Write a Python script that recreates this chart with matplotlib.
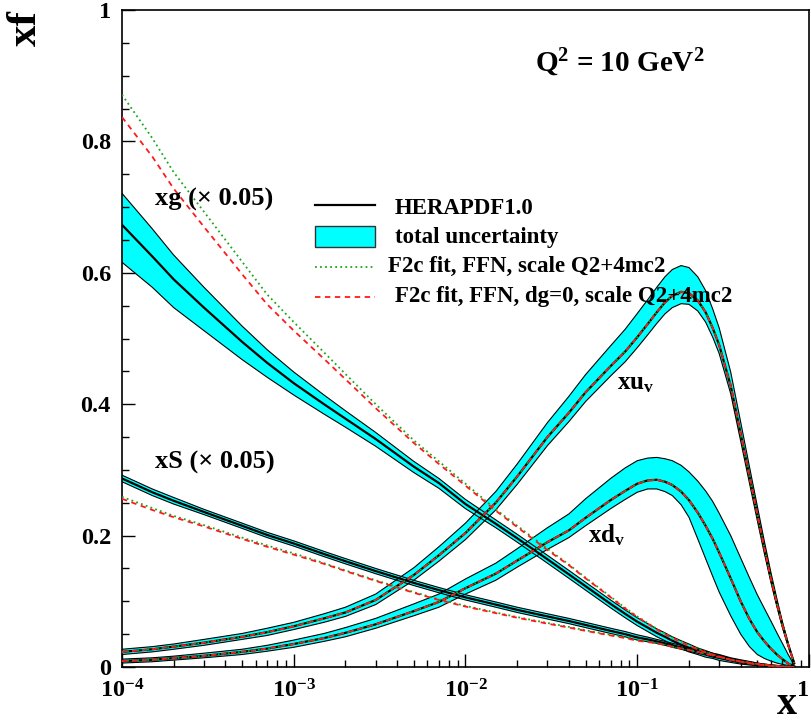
import numpy as np
import matplotlib
matplotlib.use("Agg")
import matplotlib.pyplot as plt
from matplotlib.lines import Line2D
from matplotlib.patches import Rectangle
from matplotlib.ticker import (FixedLocator, FixedFormatter, LogLocator,
                               MultipleLocator, NullFormatter)

plt.rcParams["font.family"] = ["Liberation Serif", "DejaVu Serif"]
plt.rcParams["font.weight"] = "bold"
plt.rcParams["mathtext.fontset"] = "custom"
plt.rcParams["mathtext.rm"] = "Liberation Serif:bold"
plt.rcParams["mathtext.it"] = "Liberation Serif:bold"
plt.rcParams["mathtext.bf"] = "Liberation Serif:bold"
plt.rcParams["mathtext.default"] = "rm"

# ---------------- data: parton distributions at Q^2 = 10 GeV^2 ----------------
x_vals = [1e-4, 1.5e-4, 2e-4, 3e-4, 5e-4, 7e-4, 1e-3, 1.5e-3, 2e-3, 3e-3,
          5e-3, 7e-3, 1e-2, 1.5e-2, 2e-2, 3e-2, 4e-2, 5e-2, 7e-2, 0.085,
          0.1, 0.115, 0.13, 0.145, 0.16, 0.18, 0.2, 0.225, 0.25, 0.275,
          0.3, 0.35, 0.4, 0.45, 0.5, 0.55, 0.6, 0.65, 0.7, 0.76, 0.82]

# gluon (x 0.05)
xg = [0.673, 0.625, 0.590, 0.547, 0.495, 0.463, 0.432, 0.400, 0.378, 0.347,
      0.305, 0.280, 0.248, 0.218, 0.196, 0.164, 0.141, 0.123, 0.096, 0.081,
      0.069, 0.060, 0.052, 0.046, 0.040, 0.034, 0.029, 0.024, 0.020, 0.017,
      0.014, 0.010, 0.007, 0.005, 0.0035, 0.0025, 0.0015, 0.001, 0.0006, 0.0002, 0.0]
xg_hi = [0.721, 0.667, 0.627, 0.578, 0.519, 0.483, 0.449, 0.414, 0.390, 0.357,
         0.313, 0.287, 0.255, 0.224, 0.202, 0.170, 0.147, 0.129, 0.102, 0.087,
         0.075, 0.066, 0.058, 0.052, 0.046, 0.040, 0.035, 0.029, 0.025, 0.021,
         0.018, 0.013, 0.0095, 0.007, 0.005, 0.0037, 0.0025, 0.0017, 0.0011, 0.0004, 0.0]
xg_lo = [0.616, 0.578, 0.547, 0.512, 0.468, 0.441, 0.414, 0.385, 0.365, 0.336,
         0.296, 0.272, 0.241, 0.212, 0.190, 0.158, 0.135, 0.117, 0.090, 0.075,
         0.063, 0.054, 0.046, 0.040, 0.034, 0.028, 0.023, 0.019, 0.015, 0.013,
         0.010, 0.007, 0.0045, 0.003, 0.002, 0.0013, 0.0005, 0.0003, 0.0001, 0.0, 0.0]
xg_ffn = [0.871, 0.805, 0.753, 0.693, 0.617, 0.567, 0.525, 0.479, 0.446, 0.400,
          0.345, 0.313, 0.279, 0.240, 0.215, 0.180, 0.156, 0.136, 0.107, 0.090,
          0.077, 0.067, 0.058, 0.051, 0.045, 0.039, 0.033, 0.028, 0.023, 0.019,
          0.016, 0.011, 0.008, 0.0055, 0.004, 0.0027, 0.0017, 0.001, 0.0006, 0.0002, 0.0]
xg_ffn_dg0 = [0.837, 0.777, 0.728, 0.670, 0.598, 0.552, 0.512, 0.469, 0.438, 0.394,
              0.341, 0.309, 0.276, 0.238, 0.213, 0.178, 0.155, 0.135, 0.106, 0.089,
              0.076, 0.066, 0.057, 0.050, 0.044, 0.038, 0.032, 0.027, 0.022, 0.019,
              0.016, 0.011, 0.008, 0.0055, 0.004, 0.0027, 0.0017, 0.001, 0.0006, 0.0002, 0.0]

# sea (x 0.05)
xS = [0.287, 0.266, 0.253, 0.236, 0.215, 0.201, 0.188, 0.172, 0.161, 0.146,
      0.128, 0.117, 0.106, 0.095, 0.087, 0.077, 0.070, 0.064, 0.055, 0.050,
      0.045, 0.042, 0.039, 0.036, 0.033, 0.030, 0.027, 0.024, 0.021, 0.018,
      0.016, 0.012, 0.009, 0.007, 0.005, 0.0035, 0.0025, 0.0017, 0.001, 0.0004, 0.0]
xS_hi = [0.292, 0.271, 0.258, 0.240, 0.219, 0.205, 0.192, 0.176, 0.165, 0.150,
         0.132, 0.121, 0.110, 0.099, 0.091, 0.081, 0.074, 0.068, 0.059, 0.054,
         0.049, 0.0455, 0.042, 0.039, 0.036, 0.033, 0.030, 0.027, 0.024, 0.021,
         0.019, 0.014, 0.011, 0.0085, 0.006, 0.0045, 0.0032, 0.0022, 0.0014, 0.0006, 0.0]
xS_lo = [0.282, 0.261, 0.248, 0.232, 0.211, 0.197, 0.184, 0.168, 0.157, 0.142,
         0.124, 0.113, 0.102, 0.091, 0.083, 0.073, 0.066, 0.060, 0.051, 0.046,
         0.041, 0.0385, 0.036, 0.033, 0.030, 0.027, 0.024, 0.021, 0.018, 0.015,
         0.013, 0.010, 0.007, 0.0055, 0.004, 0.0027, 0.0018, 0.0012, 0.0006, 0.0002, 0.0]
xS_ffn = [0.259, 0.242, 0.230, 0.216, 0.197, 0.185, 0.173, 0.158, 0.147, 0.132,
          0.114, 0.103, 0.093, 0.083, 0.076, 0.067, 0.061, 0.056, 0.049, 0.045,
          0.041, 0.0385, 0.036, 0.0335, 0.031, 0.0285, 0.026, 0.023, 0.020, 0.0175,
          0.015, 0.011, 0.0085, 0.0065, 0.0047, 0.0033, 0.0023, 0.0016, 0.001, 0.0004, 0.0]
xS_ffn_dg0 = [0.256, 0.239, 0.228, 0.214, 0.195, 0.183, 0.171, 0.157, 0.146, 0.131,
              0.113, 0.102, 0.092, 0.082, 0.075, 0.066, 0.060, 0.055, 0.048, 0.044,
              0.040, 0.038, 0.036, 0.0335, 0.031, 0.0285, 0.026, 0.023, 0.020, 0.0175,
              0.015, 0.011, 0.0085, 0.0065, 0.0047, 0.0033, 0.0023, 0.0016, 0.001, 0.0004, 0.0]

# u valence
xuv = [0.023, 0.027, 0.031, 0.037, 0.046, 0.053, 0.062, 0.074, 0.083, 0.102,
       0.140, 0.170, 0.204, 0.250, 0.290, 0.350, 0.387, 0.418, 0.458, 0.480,
       0.502, 0.522, 0.540, 0.555, 0.565, 0.571, 0.569, 0.558, 0.540, 0.516,
       0.490, 0.428, 0.355, 0.290, 0.232, 0.180, 0.135, 0.097, 0.064, 0.032, 0.006]
xuv_hi = [0.027, 0.031, 0.035, 0.042, 0.051, 0.059, 0.068, 0.081, 0.091, 0.111,
          0.151, 0.183, 0.219, 0.267, 0.309, 0.372, 0.412, 0.445, 0.489, 0.514,
          0.538, 0.559, 0.578, 0.594, 0.605, 0.611, 0.608, 0.594, 0.573, 0.545,
          0.516, 0.449, 0.373, 0.305, 0.245, 0.191, 0.144, 0.104, 0.069, 0.035, 0.007]
xuv_lo = [0.019, 0.023, 0.027, 0.033, 0.042, 0.048, 0.057, 0.068, 0.077, 0.095,
          0.132, 0.161, 0.194, 0.239, 0.278, 0.337, 0.3735, 0.404, 0.443, 0.4645,
          0.486, 0.5055, 0.523, 0.5375, 0.547, 0.553, 0.552, 0.542, 0.525, 0.502,
          0.477, 0.416, 0.344, 0.280, 0.223, 0.1725, 0.129, 0.092, 0.060, 0.030, 0.005]

# d valence
xdv = [0.009, 0.011, 0.0135, 0.017, 0.023, 0.028, 0.035, 0.044, 0.052, 0.065,
       0.085, 0.099, 0.120, 0.142, 0.162, 0.190, 0.208, 0.227, 0.254, 0.268,
       0.279, 0.284, 0.285, 0.282, 0.277, 0.267, 0.254, 0.235, 0.215, 0.195,
       0.174, 0.135, 0.100, 0.073, 0.053, 0.039, 0.028, 0.019, 0.012, 0.005, 0.001]
xdv_hi = [0.012, 0.014, 0.0165, 0.021, 0.027, 0.033, 0.041, 0.051, 0.060, 0.074,
          0.096, 0.111, 0.134, 0.158, 0.180, 0.212, 0.233, 0.256, 0.287, 0.303,
          0.314, 0.318, 0.319, 0.317, 0.314, 0.307, 0.297, 0.283, 0.268, 0.252,
          0.234, 0.200, 0.166, 0.136, 0.110, 0.089, 0.070, 0.052, 0.036, 0.018, 0.003]
xdv_lo = [0.006, 0.008, 0.0105, 0.014, 0.019, 0.024, 0.030, 0.039, 0.046, 0.059,
          0.078, 0.091, 0.111, 0.132, 0.152, 0.179, 0.197, 0.215, 0.241, 0.255,
          0.266, 0.271, 0.271, 0.267, 0.261, 0.247, 0.228, 0.195, 0.165, 0.138,
          0.114, 0.078, 0.050, 0.031, 0.019, 0.013, 0.009, 0.006, 0.004, 0.002, 0.0]

# the F2c fits coincide with the central valence curves
xuv_ffn = xuv
xuv_ffn_dg0 = xuv
xdv_ffn = xdv
xdv_ffn_dg0 = xdv

x_ticks = [1e-4, 1e-3, 1e-2, 1e-1, 1.0]
x_ticklabels = [r"$10^{-4}$", r"$10^{-3}$", r"$10^{-2}$", r"$10^{-1}$", "1"]
y_ticks = [0.0, 0.2, 0.4, 0.6, 0.8, 1.0]
y_ticklabels = ["0", "0.2", "0.4", "0.6", "0.8", "1"]

legend_labels = ["HERAPDF1.0", "total uncertainty",
                 "F2c fit, FFN, scale Q2+4mc2",
                 "F2c fit, FFN, dg=0, scale Q2+4mc2"]

# ---------------- figure ----------------
W, H = 812, 722
fig = plt.figure(figsize=(W / 100, H / 100), dpi=100)
ax = fig.add_axes([122 / W, 1 - 667 / H, (809 - 122) / W, (667 - 10) / H])

CYAN = "#00ffff"
GREEN = "#1aa81a"
RED = "#ff1a1a"
DOTTED = (0, (1, 1.8))
DASHED = (0, (3, 2.5))

bands = [(xg, xg_lo, xg_hi), (xS, xS_lo, xS_hi),
         (xuv, xuv_lo, xuv_hi), (xdv, xdv_lo, xdv_hi)]
fits = [(xg_ffn, xg_ffn_dg0), (xS_ffn, xS_ffn_dg0),
        (xuv_ffn, xuv_ffn_dg0), (xdv_ffn, xdv_ffn_dg0)]

for c, lo, hi in bands:
    ax.fill_between(x_vals, lo, hi, facecolor=CYAN, edgecolor="none", zorder=1)
    ax.plot(x_vals, lo, color="black", lw=0.8, zorder=2)
    ax.plot(x_vals, hi, color="black", lw=0.8, zorder=2)
for c, lo, hi in bands:
    ax.plot(x_vals, c, color="black", lw=1.6, zorder=3)
for f1, f2 in fits:
    ax.plot(x_vals, f1, color=GREEN, lw=1.3, linestyle=DOTTED, zorder=4)
    ax.plot(x_vals, f2, color=RED, lw=1.3, linestyle=DASHED, zorder=5)

ax.set_xscale("log")
ax.set_xlim(1e-4, 1.0)
ax.set_ylim(0.0, 1.0)
ax.xaxis.set_major_locator(FixedLocator(x_ticks))
ax.xaxis.set_major_formatter(FixedFormatter(x_ticklabels))
ax.xaxis.set_minor_locator(LogLocator(base=10, subs=np.arange(2, 10), numticks=20))
ax.xaxis.set_minor_formatter(NullFormatter())
ax.yaxis.set_major_locator(FixedLocator(y_ticks))
ax.yaxis.set_major_formatter(FixedFormatter(y_ticklabels))
ax.yaxis.set_minor_locator(MultipleLocator(0.05))
ax.tick_params(which="both", direction="in", top=False, right=False, width=1.0)
ax.tick_params(which="major", length=9.5, labelsize=17.5)
ax.tick_params(which="minor", length=5)
ax.tick_params(axis="y", which="major", pad=8)
ax.tick_params(axis="x", which="major", pad=9)
for s in ax.spines.values():
    s.set_linewidth(1.2)

# keep the last x tick label inside the canvas
fig.canvas.draw()
ax.get_xticklabels()[-1].set_horizontalalignment("right")


def fx(px):
    return px / W


def fy(py):
    return 1 - py / H


fig.text(fx(26), fy(28), "xf", rotation=90, fontsize=31, ha="center", va="center")
fig.text(fx(787), fy(704), "x", fontsize=29, ha="center", va="center")

fig.text(fx(535), fy(63), r"Q$^{2}$ = 10 GeV$^{2}$", fontsize=21, ha="left", va="center")
fig.text(fx(155), fy(199), "xg (\u00d7 0.05)", fontsize=19, ha="left", va="center")
fig.text(fx(155), fy(462), "xS (\u00d7 0.05)", fontsize=19, ha="left", va="center")
fig.text(fx(617), fy(383), r"xu$_{v}$", fontsize=18, ha="left", va="center")
fig.text(fx(588), fy(535), r"xd$_{v}$", fontsize=18, ha="left", va="center")

# legend
fig.add_artist(Line2D([fx(315), fx(375)], [fy(205), fy(205)], color="black", lw=1.6))
fig.add_artist(Rectangle((fx(315), fy(247)), 60 / W, 21 / H, facecolor=CYAN,
                         edgecolor="#333333", lw=1.0))
fig.add_artist(Line2D([fx(315), fx(375)], [fy(267), fy(267)], color=GREEN, lw=1.3,
                      linestyle=DOTTED))
fig.add_artist(Line2D([fx(315), fx(375)], [fy(297), fy(297)], color=RED, lw=1.3,
                      linestyle=DASHED))
fig.text(fx(395), fy(208), legend_labels[0], fontsize=16.5, ha="left", va="center")
fig.text(fx(395), fy(237), legend_labels[1], fontsize=16.5, ha="left", va="center")
fig.text(fx(388), fy(266), legend_labels[2], fontsize=16.5, ha="left", va="center")
fig.text(fx(395), fy(296), legend_labels[3], fontsize=16.5, ha="left", va="center")

fig.savefig("out.png", dpi=100)
